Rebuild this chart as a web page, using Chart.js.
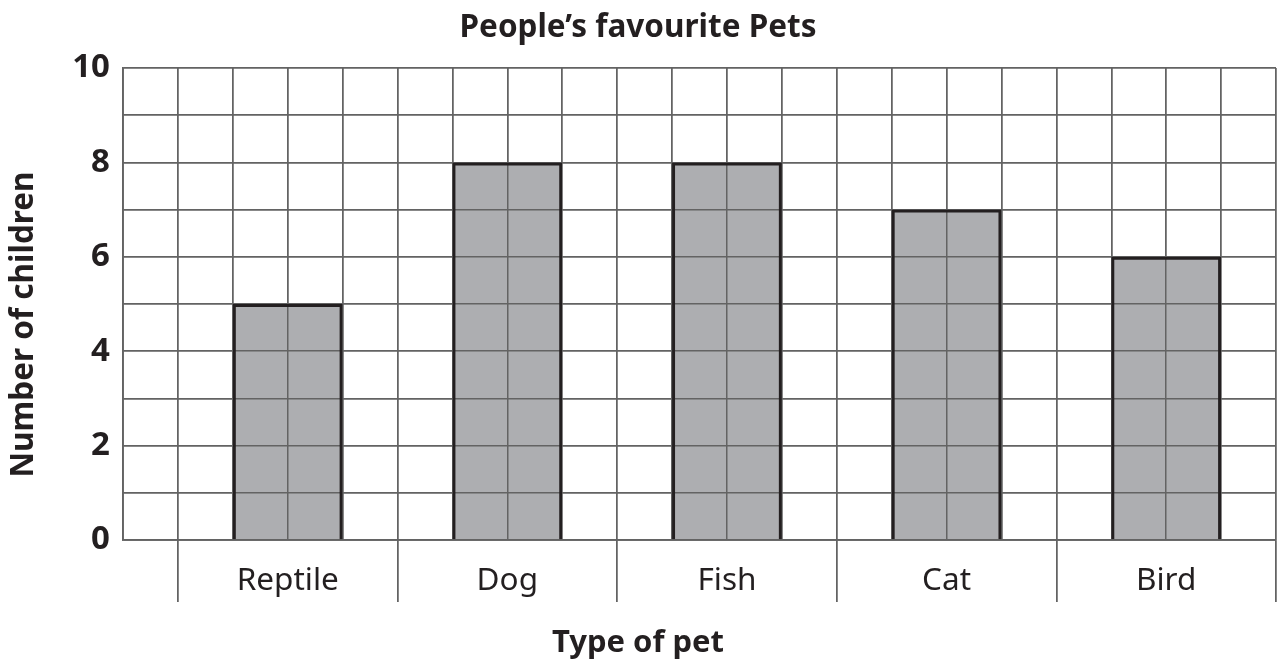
<!DOCTYPE html>
<html><head><meta charset="utf-8">
<script src="https://cdn.jsdelivr.net/npm/chart.js@4"></script>
<style>html,body{margin:0;padding:0;background:#fff;}</style>
</head><body>
<canvas id="c" width="1277" height="666"></canvas>
<script>
const categories = ['Reptile', 'Dog', 'Fish', 'Cat', 'Bird'];
const children = [5, 8, 8, 7, 6];
const yTickLabels = [0, 2, 4, 6, 8, 10];
const chartTitle = 'People’s favourite Pets';
const xTitle = 'Type of pet';
const yTitle = 'Number of children';

const points = categories.map((c, i) => ({ x: i + 0.5, y: children[i] }));
const ink = '#231f20';
const gridCol = '#636363';

Chart.defaults.font.family = "'Noto Sans', sans-serif";
Chart.defaults.color = ink;

const gridOnTop = {
  id: 'gridOnTop',
  afterDatasetDraw(chart, args) {
    if (args.index === 1) {
      const a = chart.chartArea;
      chart.scales.x.drawGrid(a);
      chart.scales.y.drawGrid(a);
      chart.scales.x.drawBorder();
      chart.scales.y.drawBorder();
    }
  }
};

new Chart(document.getElementById('c'), {
  type: 'bar',
  data: {
    datasets: [
      { data: points, backgroundColor: 'rgba(0,0,0,0)', borderColor: ink, borderWidth: 3, borderSkipped: 'bottom' },
      { data: points, backgroundColor: '#adaeb1', borderWidth: 0 }
    ]
  },
  options: {
    responsive: false,
    animation: false,
    grouped: false,
    categoryPercentage: 1,
    barPercentage: 2,
    layout: { padding: { left: 0, right: 1, top: 0, bottom: 0 } },
    plugins: {
      legend: { display: false },
      tooltip: { enabled: false },
      title: { display: true, text: chartTitle, font: { size: 31.5, weight: 'bold' }, padding: { top: 9, bottom: 21.2 }, color: ink },
      subtitle: { display: true, position: 'bottom', text: xTitle, font: { size: 31, weight: 'bold' }, padding: { top: 24.8, bottom: 4 }, color: ink }
    },
    scales: {
      x: {
        type: 'linear',
        offset: false,
        min: -0.25,
        max: 5,
        afterBuildTicks(scale) {
          const t = [];
          for (let v = -1; v <= 20; v++) t.push({ value: v / 4 });
          scale.ticks = t;
        },
        afterFit(scale) { scale.height = 60; },
        grid: {
          offset: false,
          color: gridCol,
          lineWidth: 1.5,
          drawTicks: true,
          tickLength: 62,
          tickWidth: 1.5,
          tickColor: (ctx) => (ctx.tick && Number.isInteger(ctx.tick.value) && ctx.tick.value >= 0) ? gridCol : 'rgba(0,0,0,0)'
        },
        border: { display: true, color: gridCol, width: 1.5 },
        ticks: {
          autoSkip: false,
          maxRotation: 0,
          padding: -40,
          font: { size: 31.5 },
          color: ink,
          callback(value) {
            const k = value - 0.5;
            return (Number.isInteger(k) && k >= 0 && k < categories.length) ? categories[k] : '';
          }
        }
      },
      y: {
        min: 0,
        max: 10,
        afterFit(scale) { scale.width = 123; },
        grid: { color: gridCol, lineWidth: 1.5, drawTicks: false },
        border: { display: true, color: gridCol, width: 1.5 },
        ticks: {
          stepSize: 1,
          autoSkip: false,
          padding: 13,
          font: { size: 33, weight: 'bold' },
          color: ink,
          callback(value) { return yTickLabels.includes(value) ? String(value) : ''; }
        },
        title: { display: true, text: yTitle + '\u00A0\u00A0\u00A0\u00A0\u00A0', font: { size: 31.5, weight: 'bold' }, color: ink, padding: { top: 5, bottom: 0 } }
      }
    }
  },
  plugins: [gridOnTop]
});
</script>
</body></html>
